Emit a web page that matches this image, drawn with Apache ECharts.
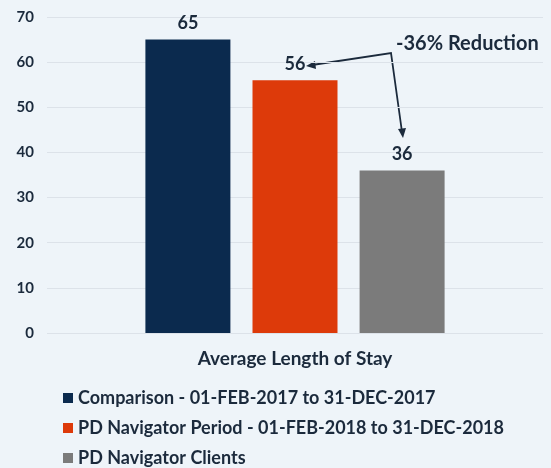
<!DOCTYPE html>
<html>
<head>
<meta charset="utf-8">
<script src="https://cdn.jsdelivr.net/npm/echarts@6/dist/echarts.min.js"></script>
<style>
  html, body { margin: 0; padding: 0; background: #eef4f9; }
  #chart { width: 551px; height: 468px; }
</style>
</head>
<body>
<div id="chart"></div>
<script>
const categories = ['Average Length of Stay']
const seriesNames = [
  'Comparison - 01-FEB-2017 to 31-DEC-2017',
  'PD Navigator Period - 01-FEB-2018 to 31-DEC-2018',
  'PD Navigator Clients'
]
const seriesValues = [[65], [56], [36]]
const colors = ['#0b2a4e', '#dd3a0a', '#7b7b7b']
const yTicks = { min: 0, max: 70, interval: 10 }

const FONT = 'Lato'
const TEXT = '#1b2a3c'

const chart = echarts.init(document.getElementById('chart'), null, { renderer: 'canvas' })

const series = seriesNames.map((name, i) => ({
  name: name,
  type: 'bar',
  data: seriesValues[i],
  barWidth: 85,
  barGap: '26%',
  itemStyle: { color: colors[i] },
  label: {
    show: true,
    position: 'top',
    distance: 7,
    color: TEXT,
    fontFamily: FONT,
    fontWeight: 'bold',
    fontSize: 18
  }
}))

chart.setOption({
  backgroundColor: '#eef4f9',
  animation: false,
  color: colors,
  grid: { left: 47, right: 8, top: 17, bottom: 135 },
  xAxis: {
    type: 'category',
    data: categories,
    axisLine: { show: false },
    axisTick: { show: false },
    axisLabel: {
      margin: 16,
      color: TEXT,
      fontFamily: FONT,
      fontWeight: 'bold',
      fontSize: 19
    }
  },
  yAxis: {
    type: 'value',
    min: yTicks.min,
    max: yTicks.max,
    interval: yTicks.interval,
    axisLine: { show: false },
    axisTick: { show: false },
    splitLine: { lineStyle: { color: '#dce2e9', width: 1 } },
    axisLabel: {
      margin: 13,
      color: TEXT,
      fontFamily: FONT,
      fontWeight: 'bold',
      fontSize: 15
    }
  },
  legend: {
    orient: 'vertical',
    left: 63,
    top: 389,
    height: 120,
    padding: 0,
    icon: 'rect',
    itemWidth: 10,
    itemHeight: 10,
    itemGap: 12,
    textStyle: {
      color: TEXT,
      fontFamily: FONT,
      fontWeight: 'bold',
      fontSize: 18
    }
  },
  graphic: [
    {
      type: 'text',
      left: 396,
      top: 34,
      style: {
        text: '-36% Reduction',
        fill: TEXT,
        font: 'bold 20px ' + FONT
      }
    },
    {
      type: 'polyline',
      shape: { points: [[312, 65], [391, 53], [402, 132]] },
      style: { stroke: TEXT, lineWidth: 1.8, fill: null }
    },
    {
      type: 'polygon',
      shape: { points: [[306, 66], [315, 61], [316, 69]] },
      style: { fill: TEXT }
    },
    {
      type: 'polygon',
      shape: { points: [[403, 138], [398, 129], [406, 128]] },
      style: { fill: TEXT }
    }
  ],
  series: series
})
</script>
</body>
</html>
